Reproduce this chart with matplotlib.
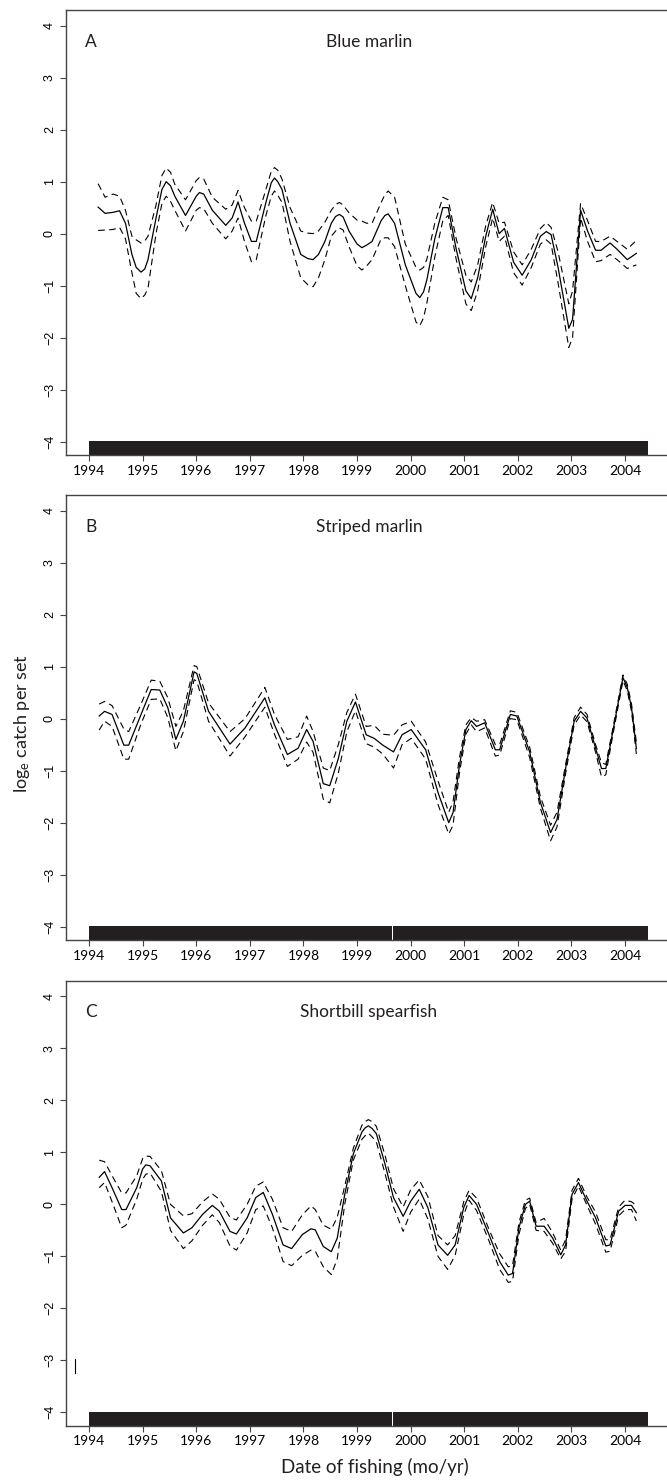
import numpy as np
import matplotlib
matplotlib.use("Agg")
import matplotlib.pyplot as plt
import matplotlib.transforms as mtransforms

plt.rcParams['font.family'] = ['Lato', 'DejaVu Sans']
plt.rcParams['mathtext.default'] = 'regular'

# ---- panel A: blue marlin (smoothed log catch per set, with 95% band)
a_year = [1994.17, 1994.30, 1994.45, 1994.57, 1994.68, 1994.80, 1994.88, 1994.97, 1995.04, 1995.10,
          1995.25, 1995.36, 1995.44, 1995.52, 1995.60, 1995.80, 1996.00, 1996.06, 1996.14, 1996.30,
          1996.55, 1996.67, 1996.78, 1996.90, 1997.03, 1997.12, 1997.30, 1997.40, 1997.46, 1997.52,
          1997.60, 1997.75, 1997.95, 1998.08, 1998.18, 1998.28, 1998.40, 1998.52, 1998.60, 1998.67,
          1998.74, 1998.85, 1999.00, 1999.09, 1999.18, 1999.28, 1999.45, 1999.52, 1999.58, 1999.70,
          1999.90, 2000.10, 2000.17, 2000.24, 2000.30, 2000.45, 2000.60, 2000.70, 2000.85, 2001.03,
          2001.13, 2001.25, 2001.40, 2001.53, 2001.65, 2001.75, 2001.92, 2002.08, 2002.25, 2002.42,
          2002.53, 2002.62, 2002.75, 2002.95, 2003.02, 2003.17, 2003.30, 2003.45, 2003.55, 2003.72,
          2003.85, 2004.04, 2004.21]
a_mean = [0.51, 0.39, 0.41, 0.44, 0.20, -0.40, -0.65, -0.74, -0.68, -0.50,
          0.30, 0.85, 1.00, 0.92, 0.72, 0.35, 0.72, 0.79, 0.76, 0.45,
          0.16, 0.30, 0.61, 0.20, -0.15, -0.15, 0.60, 0.98, 1.07, 1.00,
          0.85, 0.20, -0.40, -0.48, -0.50, -0.40, -0.15, 0.20, 0.33, 0.37,
          0.32, 0.05, -0.20, -0.27, -0.22, -0.15, 0.25, 0.35, 0.38, 0.20,
          -0.60, -1.15, -1.23, -1.12, -0.90, -0.10, 0.50, 0.50, -0.30, -1.10,
          -1.25, -0.85, -0.05, 0.47, 0.00, 0.10, -0.55, -0.80, -0.50, -0.05,
          0.04, -0.02, -0.65, -1.82, -1.65, 0.45, 0.05, -0.32, -0.32, -0.18,
          -0.30, -0.50, -0.38]
a_upper = [0.96, 0.70, 0.76, 0.72, 0.45, -0.05, -0.12, -0.18, -0.14, -0.05,
           0.55, 1.12, 1.26, 1.18, 0.95, 0.65, 1.02, 1.08, 1.05, 0.70,
           0.47, 0.55, 0.83, 0.50, 0.24, 0.24, 0.85, 1.20, 1.27, 1.22,
           1.05, 0.50, 0.05, 0.01, 0.00, 0.05, 0.22, 0.45, 0.56, 0.60,
           0.55, 0.40, 0.26, 0.24, 0.20, 0.20, 0.60, 0.75, 0.82, 0.70,
           -0.20, -0.65, -0.70, -0.65, -0.50, 0.20, 0.70, 0.65, -0.10, -0.80,
           -0.93, -0.60, 0.15, 0.60, 0.20, 0.22, -0.35, -0.60, -0.30, 0.10,
           0.21, 0.12, -0.35, -1.35, -1.10, 0.58, 0.25, -0.15, -0.15, -0.05,
           -0.15, -0.30, -0.13]
a_lower = [0.06, 0.07, 0.08, 0.12, -0.10, -0.75, -1.15, -1.25, -1.18, -1.05,
           0.00, 0.58, 0.72, 0.62, 0.45, 0.05, 0.45, 0.50, 0.48, 0.20,
           -0.10, 0.05, 0.30, -0.15, -0.54, -0.50, 0.35, 0.72, 0.82, 0.74,
           0.60, -0.15, -0.85, -0.98, -1.02, -0.85, -0.50, -0.05, 0.05, 0.11,
           0.07, -0.25, -0.62, -0.70, -0.62, -0.50, -0.10, -0.08, -0.08, -0.25,
           -1.00, -1.70, -1.77, -1.62, -1.35, -0.45, 0.25, 0.35, -0.50, -1.35,
           -1.48, -1.10, -0.25, 0.30, -0.15, -0.05, -0.75, -0.99, -0.65, -0.20,
           -0.12, -0.20, -0.95, -2.19, -2.00, 0.30, -0.15, -0.54, -0.52, -0.40,
           -0.50, -0.67, -0.60]

# ---- panel B: striped marlin
b_year = [1994.19, 1994.29, 1994.43, 1994.65, 1994.74, 1994.97, 1995.16, 1995.32, 1995.47, 1995.62,
          1995.76, 1995.96, 1996.01, 1996.23, 1996.63, 1996.91, 1997.28, 1997.46, 1997.70, 1997.90,
          1998.06, 1998.18, 1998.37, 1998.49, 1998.65, 1998.81, 1998.97, 1999.17, 1999.32, 1999.48,
          1999.68, 1999.84, 2000.01, 2000.28, 2000.51, 2000.71, 2000.79, 2000.91, 2001.03, 2001.13,
          2001.23, 2001.38, 2001.58, 2001.66, 2001.86, 2001.98, 2002.22, 2002.42, 2002.61, 2002.73,
          2002.89, 2003.05, 2003.17, 2003.29, 2003.45, 2003.56, 2003.64, 2003.76, 2003.96, 2004.04,
          2004.12, 2004.21]
b_mean = [0.05, 0.14, 0.08, -0.51, -0.51, 0.08, 0.56, 0.55, 0.21, -0.40,
          -0.05, 0.90, 0.87, 0.14, -0.49, -0.18, 0.40, -0.12, -0.69, -0.57,
          -0.21, -0.44, -1.25, -1.29, -0.77, -0.05, 0.32, -0.31, -0.38, -0.51,
          -0.64, -0.31, -0.21, -0.60, -1.42, -2.00, -1.81, -0.90, -0.21, -0.04,
          -0.15, -0.08, -0.60, -0.60, 0.08, 0.05, -0.64, -1.61, -2.19, -1.94,
          -0.96, -0.05, 0.14, 0.01, -0.57, -0.96, -0.96, -0.31, 0.79, 0.60,
          0.21, -0.57]
b_upper = [0.28, 0.33, 0.25, -0.20, -0.25, 0.28, 0.74, 0.72, 0.40, -0.15,
           0.15, 1.02, 1.00, 0.30, -0.25, 0.00, 0.60, 0.08, -0.40, -0.35,
           0.05, -0.25, -0.95, -1.00, -0.50, 0.12, 0.47, -0.15, -0.13, -0.30,
           -0.32, -0.12, -0.05, -0.45, -1.20, -1.80, -1.60, -0.75, -0.12, 0.02,
           -0.05, -0.02, -0.50, -0.50, 0.15, 0.12, -0.55, -1.50, -2.05, -1.80,
           -0.88, 0.02, 0.22, 0.08, -0.50, -0.85, -0.88, -0.25, 0.84, 0.66,
           0.28, -0.45]
b_lower = [-0.22, -0.05, -0.15, -0.78, -0.78, -0.10, 0.37, 0.38, 0.02, -0.62,
           -0.25, 0.75, 0.72, -0.05, -0.72, -0.35, 0.22, -0.30, -0.92, -0.78,
           -0.45, -0.65, -1.55, -1.62, -1.05, -0.25, 0.15, -0.48, -0.55, -0.68,
           -0.95, -0.50, -0.38, -0.78, -1.65, -2.22, -2.05, -1.05, -0.30, -0.12,
           -0.25, -0.18, -0.72, -0.70, 0.00, -0.02, -0.75, -1.72, -2.35, -2.08,
           -1.06, -0.12, 0.07, -0.06, -0.65, -1.12, -1.08, -0.38, 0.73, 0.54,
           0.14, -0.68]

# ---- panel C: shortbill spearfish
c_year = [1994.19, 1994.29, 1994.43, 1994.61, 1994.69, 1994.89, 1995.00, 1995.06, 1995.14, 1995.35,
          1995.52, 1995.76, 1995.92, 1996.12, 1996.30, 1996.43, 1996.63, 1996.75, 1996.95, 1997.11,
          1997.25, 1997.42, 1997.62, 1997.78, 1997.98, 1998.14, 1998.22, 1998.37, 1998.52, 1998.63,
          1998.77, 1998.93, 1999.09, 1999.15, 1999.21, 1999.28, 1999.36, 1999.52, 1999.68, 1999.86,
          2000.00, 2000.16, 2000.32, 2000.51, 2000.69, 2000.83, 2000.99, 2001.09, 2001.23, 2001.46,
          2001.66, 2001.82, 2001.90, 2002.02, 2002.14, 2002.22, 2002.34, 2002.49, 2002.65, 2002.80,
          2002.89, 2003.01, 2003.13, 2003.29, 2003.45, 2003.64, 2003.72, 2003.88, 2004.00, 2004.12,
          2004.21]
c_mean = [0.52, 0.63, 0.32, -0.10, -0.10, 0.32, 0.68, 0.76, 0.74, 0.45,
          -0.26, -0.55, -0.45, -0.19, -0.02, -0.13, -0.52, -0.57, -0.26, 0.13,
          0.23, -0.19, -0.78, -0.85, -0.58, -0.47, -0.49, -0.81, -0.91, -0.65,
          0.19, 0.97, 1.39, 1.47, 1.51, 1.46, 1.36, 0.78, 0.13, -0.23,
          0.06, 0.29, -0.06, -0.78, -0.98, -0.78, -0.06, 0.17, 0.00, -0.58,
          -1.10, -1.36, -1.33, -0.45, 0.00, 0.06, -0.42, -0.42, -0.65, -0.97,
          -0.78, 0.19, 0.42, 0.06, -0.26, -0.80, -0.78, -0.13, -0.02, -0.02,
          -0.16]
c_upper = [0.85, 0.82, 0.55, 0.22, 0.22, 0.55, 0.88, 0.93, 0.92, 0.65,
           0.00, -0.22, -0.18, 0.05, 0.20, 0.10, -0.25, -0.30, 0.00, 0.35,
           0.43, 0.10, -0.45, -0.52, -0.20, -0.03, -0.10, -0.40, -0.48, -0.25,
           0.35, 1.08, 1.52, 1.59, 1.63, 1.59, 1.50, 0.95, 0.30, -0.05,
           0.28, 0.47, 0.15, -0.60, -0.78, -0.60, 0.05, 0.27, 0.12, -0.48,
           -0.95, -1.20, -1.18, -0.35, 0.08, 0.12, -0.35, -0.27, -0.55, -0.88,
           -0.68, 0.27, 0.50, 0.14, -0.15, -0.68, -0.68, -0.05, 0.08, 0.05,
           -0.02]
c_lower = [0.32, 0.42, 0.05, -0.45, -0.40, 0.10, 0.48, 0.58, 0.60, 0.25,
           -0.50, -0.85, -0.70, -0.40, -0.20, -0.35, -0.80, -0.88, -0.55, -0.10,
           -0.03, -0.45, -1.10, -1.18, -0.98, -0.88, -0.90, -1.20, -1.35, -1.05,
           0.00, 0.85, 1.25, 1.32, 1.37, 1.30, 1.20, 0.60, -0.05, -0.52,
           -0.15, 0.10, -0.28, -1.00, -1.25, -0.98, -0.20, 0.08, -0.12, -0.70,
           -1.25, -1.50, -1.48, -0.58, -0.08, 0.00, -0.50, -0.52, -0.75, -1.05,
           -0.90, 0.10, 0.35, -0.02, -0.38, -0.92, -0.90, -0.22, -0.10, -0.10,
           -0.32]

# stray tick in panel C, left of 1994
c_stray_x = [1993.73, 1993.73]
c_stray_y = [-2.98, -3.24]

# rug of fishing dates (solid bands), start/end years
a_rug = [(1994.0, 2004.42)]
b_rug = [(1994.0, 1999.655), (1999.67, 2004.42)]
c_rug = [(1994.0, 1999.655), (1999.67, 2004.42)]

letters = ["A", "B", "C"]
titles = ["Blue marlin", "Striped marlin", "Shortbill spearfish"]
years = list(range(1994, 2005))
yticks = [-4, -3, -2, -1, 0, 1, 2, 3, 4]

panels = [(a_year, a_mean, a_upper, a_lower, a_rug),
          (b_year, b_mean, b_upper, b_lower, b_rug),
          (c_year, c_mean, c_upper, c_lower, c_rug)]

fig = plt.figure(figsize=(6.67, 14.8), dpi=100)
bottoms = [0.6926, 0.3649, 0.0367]  # panel bottoms in figure fraction
axcol = "#444444"

for i in range(3):
    yr, mn, up, lo, rug = panels[i]
    ax = fig.add_axes([0.0985, bottoms[i], 0.9094, 0.3007])  # right edge runs off the page
    ax.plot(yr, mn, color="black", lw=0.9)
    ax.plot(yr, up, color="black", lw=0.8, dashes=(6, 4))
    ax.plot(yr, lo, color="black", lw=0.8, dashes=(6, 4))
    if i == 2:
        ax.plot(c_stray_x, c_stray_y, color="black", lw=0.8)
    # rug drawn as a band along the bottom axis
    trans = mtransforms.blended_transform_factory(ax.transData, ax.transAxes)
    ax.broken_barh([(s, e - s) for s, e in rug], (0, 0.031), transform=trans,
                   facecolor="#231f20", edgecolor="none")
    ax.set_xlim(1993.565, 2004.88)
    ax.set_ylim(-4.256, 4.302)
    ax.set_xticks(years)
    ax.set_xticklabels([str(y) for y in years], fontsize=10)
    ax.set_yticks(yticks)
    ax.set_yticklabels([str(t).replace("-", "\u2212") for t in yticks], rotation=90,
                       fontsize=9, family=["Liberation Sans", "DejaVu Sans"], va="center")
    ax.tick_params(axis="both", direction="out", length=4, width=0.8, color=axcol, pad=3)
    ax.tick_params(axis="y", pad=3)
    ax.spines["right"].set_visible(False)
    for s in ["top", "left", "bottom"]:
        ax.spines[s].set_color(axcol)
        ax.spines[s].set_linewidth(1.0)
    ax.text(0.0417, 0.929, letters[i], transform=ax.transAxes, fontsize=12.5,
            ha="center", va="center", color="#231f20")
    ax.text(0.5, 0.929, titles[i], transform=ax.transAxes, fontsize=12.5,
            ha="center", va="center", color="#231f20")

fig.text(21.7 / 667, 1 - 723 / 1480, "log$_{\\mathregular{e}}$ catch per set", rotation=90,
         fontsize=13, ha="center", va="center", color="#231f20")
fig.text(375 / 667, 1 - 1467 / 1480, "Date of fishing (mo/yr)", fontsize=13.5,
         ha="center", va="center", color="#231f20")

fig.savefig("out.png", dpi=100)
